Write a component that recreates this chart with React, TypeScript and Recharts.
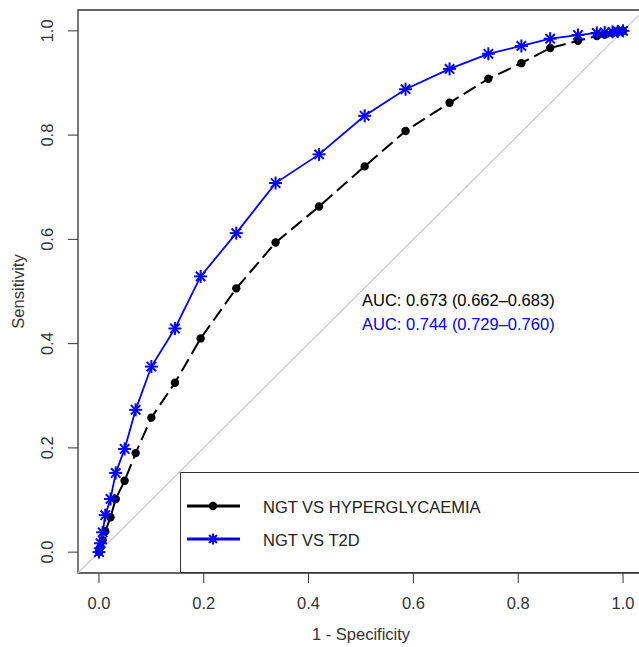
import React from 'react';
import { LineChart, Line, XAxis, YAxis, ReferenceLine, ReferenceArea } from 'recharts';

// 1 - specificity at each threshold (shared by both curves)
const fpr = [0, 0.003, 0.007, 0.012, 0.022, 0.032, 0.049, 0.07, 0.1, 0.145, 0.194, 0.262, 0.337, 0.42, 0.507, 0.585, 0.669, 0.743, 0.806, 0.861, 0.914, 0.95, 0.965, 0.98, 0.99, 1];
// sensitivity, NGT vs hyperglycaemia
const hyperglycaemia = [0, 0.01, 0.023, 0.04, 0.067, 0.102, 0.137, 0.19, 0.258, 0.325, 0.41, 0.506, 0.594, 0.663, 0.74, 0.808, 0.862, 0.908, 0.938, 0.967, 0.981, 0.99, 0.993, 0.996, 0.998, 1];
// sensitivity, NGT vs T2D
const t2d = [0, 0.017, 0.038, 0.071, 0.102, 0.152, 0.198, 0.273, 0.356, 0.429, 0.529, 0.612, 0.708, 0.763, 0.837, 0.888, 0.927, 0.956, 0.971, 0.985, 0.992, 0.996, 0.997, 0.998, 0.999, 1];

const ticks = [0, 0.2, 0.4, 0.6, 0.8, 1.0];
const seriesNames = ['NGT VS HYPERGLYCAEMIA', 'NGT VS T2D'];
const aucLabels = ['AUC: 0.673 (0.662\u20130.683)', 'AUC: 0.744 (0.729\u20130.760)'];

const data = fpr.map((x, i) => ({ fpr: x, hyper: hyperglycaemia[i], t2d: t2d[i] }));

const FONT = '"Liberation Sans", Arial, sans-serif';
const FS = 16.5;
const BLUE = '#0000ff';

// R's pch 8: plus and cross on top of each other
const Star = ({ cx, cy, size = 6.5 }: any) => {
  if (cx == null || cy == null) return null;
  const d = size * 0.72;
  return (
    <g stroke={BLUE} strokeWidth={2}>
      <line x1={cx - size} y1={cy} x2={cx + size} y2={cy} />
      <line x1={cx} y1={cy - size} x2={cx} y2={cy + size} />
      <line x1={cx - d} y1={cy - d} x2={cx + d} y2={cy + d} />
      <line x1={cx - d} y1={cy + d} x2={cx + d} y2={cy - d} />
    </g>
  );
};

const XTick = ({ x, y, payload }: any) => (
  <text x={x} y={y + 24} textAnchor="middle" fontSize={FS} fontFamily={FONT} fill="#333">
    {Number(payload.value).toFixed(1)}
  </text>
);

const YTick = ({ x, y, payload }: any) => (
  <text x={x - 13} y={y} transform={`rotate(-90, ${x - 13}, ${y})`} textAnchor="middle" fontSize={FS} fontFamily={FONT} fill="#333">
    {Number(payload.value).toFixed(1)}
  </text>
);

export default function App() {
  return (
    <div style={{ position: 'absolute', left: 0, top: 0, width: 639, height: 647, overflow: 'hidden', background: '#fff', fontFamily: FONT }}>
      <LineChart width={660} height={647} data={data} margin={{ top: 10, right: 16, bottom: 0, left: 0 }}>
        <XAxis
          dataKey="fpr"
          type="number"
          domain={[-0.04, 1.04]}
          ticks={ticks}
          allowDataOverflow
          height={74}
          axisLine={false}
          tickSize={10}
          tickLine={{ stroke: '#333' }}
          tick={<XTick />}
          label={{
            content: ({ viewBox }: any) => (
              <text x={viewBox.x + viewBox.width / 2} y={640} textAnchor="middle" fontSize={FS} fontFamily={FONT} fill="#333">
                1 - Specificity
              </text>
            ),
          }}
        />
        <YAxis
          type="number"
          domain={[-0.04, 1.04]}
          ticks={ticks}
          allowDataOverflow
          width={78}
          axisLine={false}
          tickSize={10}
          tickLine={{ stroke: '#333' }}
          tick={<YTick />}
          label={{
            content: ({ viewBox }: any) => {
              const cy = viewBox.y + viewBox.height / 2;
              return (
                <text x={24} y={cy} transform={`rotate(-90, 24, ${cy})`} textAnchor="middle" fontSize={FS} fontFamily={FONT} fill="#333">
                  Sensitivity
                </text>
              );
            },
          }}
        />
        <ReferenceLine
          segment={[{ x: -0.04, y: -0.04 }, { x: 1.04, y: 1.04 }]}
          stroke="#c8c8c8"
          strokeWidth={1.2}
          ifOverflow="visible"
        />
        <ReferenceArea x1={-0.04} x2={1.04} y1={-0.04} y2={1.04} fill="none" stroke="#333" strokeWidth={1.3} />
        <Line
          dataKey="hyper"
          type="linear"
          stroke="#000"
          strokeWidth={2}
          strokeDasharray="14 6"
          dot={{ r: 4.2, fill: '#000', stroke: 'none' }}
          activeDot={false}
          isAnimationActive={false}
        />
        <Line
          dataKey="t2d"
          type="linear"
          stroke={BLUE}
          strokeWidth={1.8}
          dot={(p: any) => <Star key={`s${p.index}`} cx={p.cx} cy={p.cy} />}
          activeDot={false}
          isAnimationActive={false}
        />
      </LineChart>

      <div style={{ position: 'absolute', left: 362, top: 288, fontSize: FS, lineHeight: '24px', whiteSpace: 'nowrap' }}>
        <div style={{ color: '#000' }}>{aucLabels[0]}</div>
        <div style={{ color: BLUE }}>{aucLabels[1]}</div>
      </div>

      <div style={{ position: 'absolute', left: 180, top: 472, width: 500, height: 101, border: '1.3px solid #333', boxSizing: 'border-box', background: '#fff' }}>
        <svg width={500} height={100} style={{ position: 'absolute', left: -1, top: -1 }}>
          <line x1={7} y1={34} x2={60} y2={34} stroke="#000" strokeWidth={3} />
          <circle cx={33} cy={34} r={4.2} fill="#000" />
          <text x={83} y={41} fontSize={FS} fontFamily={FONT} fill="#222">{seriesNames[0]}</text>
          <line x1={7} y1={67} x2={60} y2={67} stroke={BLUE} strokeWidth={3} />
          <Star cx={33} cy={67} size={5.5} />
          <text x={83} y={74} fontSize={FS} fontFamily={FONT} fill="#222">{seriesNames[1]}</text>
        </svg>
      </div>
    </div>
  );
}
